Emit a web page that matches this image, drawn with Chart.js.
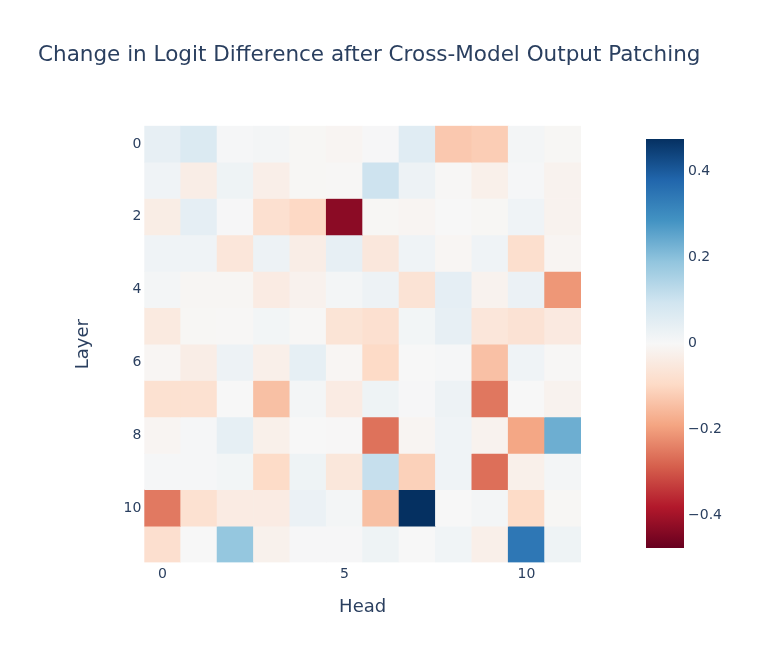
<!DOCTYPE html>
<html>
<head>
<meta charset="utf-8">
<script src="https://cdn.jsdelivr.net/npm/chart.js@4.4.1/dist/chart.umd.min.js"></script>
<style>
  body { margin: 0; background: #fff; }
  #wrap { position: relative; width: 757px; height: 663px; }
  canvas { position: absolute; left: 0; top: 0; }
</style>
</head>
<body>
<div id="wrap">
  <canvas id="heat" width="757" height="663"></canvas>
  <canvas id="bar" width="757" height="663"></canvas>
</div>
<script>
// heads along x, layers down y
const heads = ["0", "1", "2", "3", "4", "5", "6", "7", "8", "9", "10", "11"];
const layers = [0, 1, 2, 3, 4, 5, 6, 7, 8, 9, 10, 11];
const headTicks = ["0", "5", "10"];
const layerTicks = [0, 2, 4, 6, 8, 10];
const colorTicks = [-0.4, -0.2, 0, 0.2, 0.4];
const zMin = -0.475;
const zMax = 0.475;

const layer0 = [0.04, 0.07, 0.005, 0.01, -0.005, -0.01, 0.003, 0.057, -0.128, -0.12, 0.01, -0.005];
const layer1 = [0.02, -0.034, 0.022, -0.03, -0.005, -0.003, 0.1, 0.025, -0.004, -0.025, 0.005, -0.018];
const layer2 = [-0.035, 0.045, 0.003, -0.078, -0.098, -0.43, -0.005, -0.01, 0, -0.005, 0.02, -0.018];
const layer3 = [0.02, 0.02, -0.058, 0.025, -0.034, 0.04, -0.053, 0.02, -0.008, 0.02, -0.081, -0.01];
const layer4 = [0.01, -0.007, -0.007, -0.04, -0.02, 0.01, 0.025, -0.068, 0.045, -0.018, 0.03, -0.209];
const layer5 = [-0.045, -0.005, -0.003, 0.012, -0.003, -0.065, -0.078, 0.012, 0.04, -0.058, -0.07, -0.046];
const layer6 = [-0.008, -0.034, 0.025, -0.027, 0.042, -0.008, -0.095, 0, 0.006, -0.142, 0.02, -0.004];
const layer7 = [-0.075, -0.075, 0, -0.143, 0.01, -0.04, 0.022, 0.003, 0.025, -0.253, 0, -0.018];
const layer8 = [-0.01, 0.005, 0.043, -0.025, 0, -0.002, -0.26, -0.01, 0.02, -0.018, -0.186, 0.234];
const layer9 = [0.005, 0.005, 0.012, -0.093, 0.022, -0.055, 0.112, -0.113, 0.02, -0.264, -0.025, 0.01];
const layer10 = [-0.25, -0.075, -0.04, -0.04, 0.03, 0.01, -0.143, 0.475, 0, 0.01, -0.093, -0.005];
const layer11 = [-0.08, 0, 0.185, -0.022, 0.003, 0.003, 0.022, 0, 0.018, -0.028, 0.344, 0.022];
const rows = [layer0, layer1, layer2, layer3, layer4, layer5, layer6, layer7, layer8, layer9, layer10, layer11];

// RdBu, red for negative
const rdbu = [
  [103, 0, 31], [178, 24, 43], [214, 96, 77], [244, 165, 130], [253, 219, 199],
  [247, 247, 247], [209, 229, 240], [146, 197, 222], [67, 147, 195], [33, 102, 172], [5, 48, 97]
];

function colorFor(v) {
  let t = (v - zMin) / (zMax - zMin);
  t = Math.max(0, Math.min(1, t)) * (rdbu.length - 1);
  const i = Math.min(Math.floor(t), rdbu.length - 2);
  const f = t - i;
  const a = rdbu[i], b = rdbu[i + 1];
  const c = a.map((x, k) => Math.round(x + (b[k] - x) * f));
  return "rgb(" + c.join(",") + ")";
}

const FONT = "'DejaVu Sans', Verdana, sans-serif";
const INK = "#2a3f5f";

const datasets = layers.map((l, li) => ({
  label: "Layer " + l,
  data: heads.map(() => [l - 0.5, l + 0.5]),
  backgroundColor: rows[li].map(colorFor),
  borderWidth: 0,
  barPercentage: 1,
  categoryPercentage: 1,
}));

new Chart(document.getElementById("heat"), {
  type: "bar",
  data: { labels: heads, datasets: datasets },
  options: {
    responsive: false,
    animation: false,
    events: [],
    layout: { padding: { left: 38, right: 0, top: 0, bottom: 0 } },
    plugins: {
      legend: { display: false },
      tooltip: { enabled: false },
      title: {
        display: true,
        text: "Change in Logit Difference after Cross-Model Output Patching",
        align: "start",
        color: INK,
        font: { family: FONT, size: 21.5, weight: "normal" },
        padding: { top: 43, bottom: 56.9 },
      },
    },
    scales: {
      x: {
        stacked: true,
        grid: { display: false, drawTicks: false },
        border: { display: false },
        ticks: {
          color: INK,
          font: { family: FONT, size: 14 },
          padding: 3,
          autoSkip: false,
          maxRotation: 0,
          callback: function (val, idx) {
            const lab = heads[idx];
            return headTicks.includes(lab) ? lab : "";
          },
        },
        title: {
          display: true,
          text: "Head",
          color: INK,
          font: { family: FONT, size: 18 },
          padding: { top: 0, bottom: 45 },
        },
        afterFit: function (scale) { scale.height = 100.5; },
      },
      y: {
        type: "linear",
        stacked: false,
        reverse: true,
        min: -0.5,
        max: 11.5,
        grid: { display: false, drawTicks: false },
        border: { display: false },
        ticks: {
          color: INK,
          font: { family: FONT, size: 14 },
          padding: 3,
        },
        afterBuildTicks: function (scale) {
          scale.ticks = layerTicks.map((v) => ({ value: v }));
        },
        title: {
          display: true,
          text: "Layer",
          color: INK,
          font: { family: FONT, size: 18 },
          padding: { top: 35, bottom: 0 },
        },
        afterFit: function (scale) { scale.width = 106.3; },
      },
      // empty axis that keeps room on the right for the colour bar
      side: {
        type: "linear",
        position: "right",
        grid: { display: false, drawTicks: false },
        border: { display: false },
        ticks: { display: false },
        afterFit: function (scale) { scale.width = 176; },
      },
    },
  },
});

// colour bar
new Chart(document.getElementById("bar"), {
  type: "bar",
  data: {
    labels: [""],
    datasets: [{
      data: [[zMin, zMax]],
      borderWidth: 0,
      barPercentage: 1,
      categoryPercentage: 1,
      backgroundColor: function (ctx) {
        const area = ctx.chart.chartArea;
        if (!area) return "#fff";
        const g = ctx.chart.ctx.createLinearGradient(0, area.bottom, 0, area.top);
        rdbu.forEach((c, i) => g.addColorStop(i / (rdbu.length - 1), "rgb(" + c.join(",") + ")"));
        return g;
      },
    }],
  },
  options: {
    responsive: false,
    animation: false,
    events: [],
    layout: { padding: { left: 646, right: 0, top: 139, bottom: 115 } },
    plugins: { legend: { display: false }, tooltip: { enabled: false } },
    scales: {
      x: { display: false },
      y: {
        position: "right",
        min: zMin,
        max: zMax,
        grid: { display: false, drawTicks: false },
        border: { display: false },
        ticks: {
          color: INK,
          font: { family: FONT, size: 14 },
          padding: 4,
          callback: function (v) {
            if (v === 0) return "0";
            return (v < 0 ? "\u2212" : "") + Math.abs(v).toFixed(1);
          },
        },
        afterBuildTicks: function (scale) {
          scale.ticks = colorTicks.map((v) => ({ value: v }));
        },
        afterFit: function (scale) { scale.width = 73; },
      },
    },
  },
});
</script>
</body>
</html>
